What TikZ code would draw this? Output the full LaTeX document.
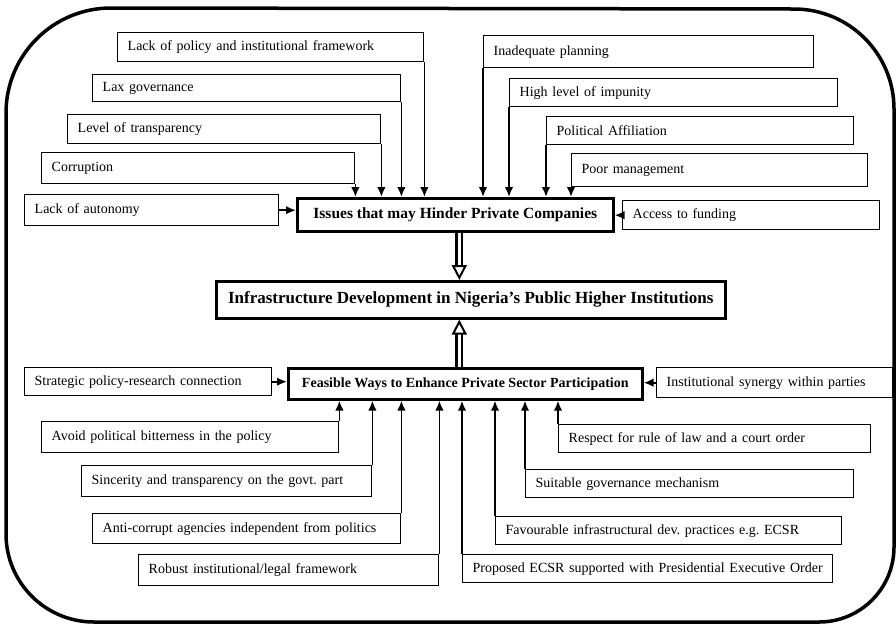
\documentclass[tikz,border=0pt]{standalone}
\usepackage{fontspec}
\setmainfont{Liberation Serif}
\frenchspacing
\usetikzlibrary{arrows.meta}

\begin{document}
\begin{tikzpicture}[x=1pt,y=-1pt,->,>={Latex[length=10pt,width=8.5pt]},
  item/.style={draw,line width=1.4pt,anchor=north west,align=left,inner xsep=10pt,inner ysep=0pt,
    minimum height=29pt,font=\fontsize{14}{16}\selectfont},
  hub/.style={draw,line width=2.6pt,anchor=north west,inner sep=0pt,font=\bfseries\fontsize{15.5}{18}\selectfont},
  link/.style={line width=1.8pt},
  flow/.style={double,double distance=3pt,line width=2.5pt,
    -{Triangle[open,length=15pt,width=15pt,line width=2pt,fill=white]}}]
  \useasboundingbox (0,0) rectangle (896,625);
  \draw[-,line width=3.5pt] (6,320) -- (6,113) arc[start angle=180,end angle=270,radius=105]
    -- (794,9) arc[start angle=270,end angle=360,radius=100]
    -- (894,547) arc[start angle=0,end angle=90,radius=75]
    -- (94,622) arc[start angle=90,end angle=180,radius=88] -- cycle;

  \node[hub,minimum width=316pt,minimum height=33pt] (iss) at (296,197) {Issues that may Hinder Private Companies};
  \node[hub,minimum width=509pt,minimum height=37pt,font=\bfseries\fontsize{17}{20}\selectfont] (inf) at (215,280)
    {Infrastructure Development in Nigeria's Public Higher Institutions};
  \node[hub,minimum width=354pt,minimum height=31pt,font=\bfseries\fontsize{14}{17}\selectfont] (fea) at (287,367)
    {Feasible Ways to Enhance Private Sector Participation};

  \node[item,text width=286pt] (lpf) at (117,32) {Lack of policy and institutional framework};
  \node[item,text width=288pt,minimum height=27pt] (lax) at (92,74) {Lax governance};
  \node[item,text width=293pt] (ltr) at (67,114) {Level of transparency};
  \node[item,text width=293pt,minimum height=31pt] (cor) at (41,152) {Corruption};
  \node[item,text width=234pt,minimum height=31pt] (lau) at (24,194) {Lack of autonomy};

  \node[item,text width=310pt,minimum height=32pt] (inp) at (483,35) {Inadequate planning};
  \node[item,text width=308pt,minimum height=28pt] (hli) at (509,78) {High level of impunity};
  \node[item,text width=287pt,minimum height=28pt] (paf) at (546,116) {Political Affiliation};
  \node[item,text width=276pt,minimum height=33pt] (pma) at (571,153) {Poor management};
  \node[item,text width=237pt] (acf) at (622,200) {Access to funding};

  \node[item,text width=227pt,minimum height=28pt] (spr) at (24,367) {Strategic policy-research connection};
  \node[item,text width=216pt,minimum height=30pt] (isp) at (656,367) {Institutional synergy within parties};

  \node[item,text width=277pt,minimum height=31pt] (apb) at (41,421) {Avoid political bitterness in the policy};
  \node[item,text width=270pt,minimum height=31pt] (stg) at (81,465) {Sincerity and transparency on the govt. part};
  \node[item,text width=288pt,minimum height=30pt] (aca) at (92,513) {Anti-corrupt agencies independent from politics};
  \node[item,text width=280pt,minimum height=31pt] (rif) at (138,554) {Robust institutional/legal framework};

  \node[item,text width=292pt,minimum height=28pt] (rrl) at (558,424) {Respect for rule of law and a court order};
  \node[item,text width=308pt,minimum height=28pt] (sgm) at (525,469) {Suitable governance mechanism};
  \node[item,text width=326pt,minimum height=28pt] (fid) at (495,516) {Favourable infrastructural dev. practices e.g. ECSR};
  \node[item,text width=350pt,minimum height=28pt] (pec) at (462,554) {Proposed ECSR supported with Presidential Executive Order};

  \path[link]
     (lpf.south east) edge (lpf.south east |- iss.north)
     (lax.south east) edge (lax.south east |- iss.north)
     (ltr.south east) edge (ltr.south east |- iss.north)
     (cor.south east) edge (cor.south east |- iss.north)
     (inp.south west) edge (inp.south west |- iss.north)
     (hli.south west) edge (hli.south west |- iss.north)
     (paf.south west) edge (paf.south west |- iss.north)
     (pma.south west) edge (pma.south west |- iss.north)
     (lau.east) edge (lau.east -| iss.west)
     (acf.west) edge (acf.west -| iss.east)
     (spr.east) edge (spr.east -| fea.west)
     (isp.west) edge (isp.west -| fea.east)
     (apb.north east) edge (apb.north east |- fea.south)
     (stg.north east) edge (stg.north east |- fea.south)
     (aca.north east) edge (aca.north east |- fea.south)
     (rif.north east) edge (rif.north east |- fea.south)
     (rrl.north west) edge (rrl.north west |- fea.south)
     (sgm.north west) edge (sgm.north west |- fea.south)
     (fid.north west) edge (fid.north west |- fea.south)
     (pec.north west) edge (pec.north west |- fea.south);
  \draw[flow] ([xshift=4pt]iss.south) -- ([xshift=4pt]iss.south |- inf.north);
  \draw[flow] ([xshift=-6pt]fea.north) -- ([xshift=-6pt]fea.north |- inf.south);
\end{tikzpicture}
\end{document}
